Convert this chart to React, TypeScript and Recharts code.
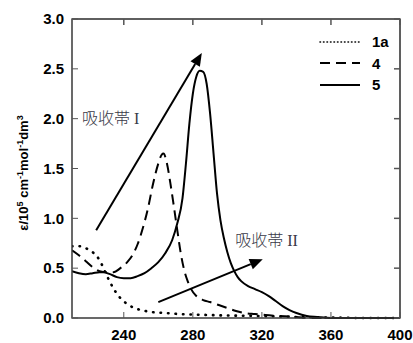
import React from 'react';
import { LineChart, Line, XAxis, YAxis, ReferenceLine, ReferenceDot, ReferenceArea } from 'recharts';

// wavelength (nm) / epsilon (10^5) pairs
const nm1a = [210, 214, 218, 222, 226, 229, 232, 235, 238, 242, 246, 250, 256, 264, 272, 280, 300, 320, 340, 360, 380, 400];
const eps1a = [0.72, 0.72, 0.7, 0.66, 0.58, 0.47, 0.36, 0.27, 0.2, 0.14, 0.1, 0.08, 0.06, 0.05, 0.04, 0.035, 0.025, 0.02, 0.01, 0.005, 0, 0];

const nm4 = [210, 214, 218, 222, 226, 230, 234, 238, 242, 245, 248, 251, 254, 257, 260, 262, 263, 265, 267, 269, 271, 273, 275, 277, 279, 282, 286, 290, 295, 300, 305, 310, 316, 322, 330, 340, 350, 400];
const eps4 = [0.68, 0.63, 0.57, 0.51, 0.47, 0.46, 0.46, 0.5, 0.56, 0.63, 0.74, 0.9, 1.1, 1.35, 1.55, 1.64, 1.65, 1.55, 1.35, 1.12, 0.88, 0.65, 0.48, 0.37, 0.29, 0.22, 0.18, 0.16, 0.13, 0.1, 0.07, 0.05, 0.04, 0.03, 0.02, 0.01, 0, 0];

const nm5 = [210, 214, 218, 222, 226, 228, 232, 236, 240, 244, 248, 252, 256, 260, 264, 268, 271, 274, 276, 278, 280, 282, 284, 286, 288, 290, 292, 294, 296, 298, 300, 302, 304, 306, 308, 312, 316, 320, 324, 328, 332, 336, 340, 346, 352, 360, 380, 400];
const eps5 = [0.47, 0.45, 0.44, 0.45, 0.46, 0.46, 0.44, 0.41, 0.4, 0.4, 0.42, 0.45, 0.5, 0.56, 0.65, 0.78, 0.95, 1.2, 1.55, 1.95, 2.25, 2.42, 2.48, 2.47, 2.35, 2.05, 1.65, 1.25, 0.98, 0.8, 0.66, 0.55, 0.47, 0.41, 0.37, 0.32, 0.29, 0.26, 0.22, 0.17, 0.12, 0.08, 0.05, 0.02, 0.01, 0, 0, 0];

const xTicks = [240, 280, 320, 360, 400];
const yTicks = [0, 0.5, 1, 1.5, 2, 2.5, 3];

const series = [
  { name: '1a', nm: nm1a, eps: eps1a, dash: '0.5 7', width: 2.6 },
  { name: '4', nm: nm4, eps: eps4, dash: '10 6', width: 2 },
  { name: '5', nm: nm5, eps: eps5, dash: undefined, width: 2 },
];

// absorption band arrows: [x1, y1, x2, y2]
const arrows = [
  [224, 0.88, 285.2, 2.66],
  [260, 0.16, 320.5, 0.59],
];
const bandLabels = [
  { x: 215.8, y: 2.0, text: '吸收帯 I' },
  { x: 304.5, y: 0.78, text: '吸收帯 II' },
];

const font = '"Liberation Sans", Arial, sans-serif';
const frame = '#555';

const ArrowShape = (props: any) => {
  const { x1, y1, x2, y2 } = props;
  const a = Math.atan2(y2 - y1, x2 - x1);
  const len = 13;
  const half = 5.5;
  const bx = x2 - len * Math.cos(a);
  const by = y2 - len * Math.sin(a);
  const px = -Math.sin(a) * half;
  const py = Math.cos(a) * half;
  return (
    <g>
      <line x1={x1} y1={y1} x2={bx} y2={by} stroke="#000" strokeWidth={2} />
      <polygon points={`${x2},${y2} ${bx + px},${by + py} ${bx - px},${by - py}`} fill="#000" />
    </g>
  );
};

// full frame edge plus inward tick, drawn from the reference line's own coordinates
const TopEdge = (p: any) => {
  const top = Math.min(p.y1, p.y2);
  return <line x1={p.x1} x2={p.x1} y1={top} y2={top + 6} stroke={frame} strokeWidth={1.5} />;
};
const RightEdge = (p: any) => {
  const right = Math.max(p.x1, p.x2);
  return <line x1={right - 6} x2={right} y1={p.y1} y2={p.y1} stroke={frame} strokeWidth={1.5} />;
};
const FrameLine = (p: any) => (
  <line x1={p.x1} y1={p.y1} x2={p.x2} y2={p.y2} stroke={frame} strokeWidth={1.5} />
);

const LegendBox = () => (
  <div style={{ position: 'absolute', top: 31, left: 318, fontFamily: font, fontWeight: 'bold', fontSize: 15 }}>
    {series.map((s) => (
      <div key={s.name} style={{ display: 'flex', alignItems: 'center', height: 21.5 }}>
        <svg width={44} height={8}>
          <line x1={2} y1={4} x2={42} y2={4} stroke="#000" strokeWidth={s.name === '1a' ? 1.6 : 2}
            strokeDasharray={s.name === '1a' ? '0.5 3' : s.dash} strokeLinecap={s.name === '1a' ? 'round' : 'butt'} />
        </svg>
        <span style={{ marginLeft: 10 }}>{s.name}</span>
      </div>
    ))}
  </div>
);

const YLabel = () => (
  <text x={0} y={0} transform="translate(28,173) rotate(-90)" textAnchor="middle" fontFamily={font}
    fontWeight="bold" fontSize={13} fill="#000">
    <tspan>ε/10</tspan>
    <tspan fontSize={9} dy={-5}>5</tspan>
    <tspan dy={5}> cm</tspan>
    <tspan fontSize={9} dy={-5}>-1</tspan>
    <tspan dy={5}>mol</tspan>
    <tspan fontSize={9} dy={-5}>-1</tspan>
    <tspan dy={5}>dm</tspan>
    <tspan fontSize={9} dy={-5}>3</tspan>
  </text>
);

export default function App() {
  return (
    <div style={{ position: 'relative', width: 413, height: 343, background: '#fff' }}>
      <style>{'body{margin:0}'}</style>
      <LineChart width={413} height={343} margin={{ top: 19, right: 13, bottom: 0, left: 0 }}>
        <XAxis xAxisId="b" type="number" dataKey="x" domain={[210, 400]} ticks={xTicks} allowDataOverflow
          height={25} tickSize={-6} tickMargin={17} stroke={frame}
          tick={{ fill: '#000', fontFamily: font, fontWeight: 'bold', fontSize: 15 }} />
        <YAxis yAxisId="l" type="number" domain={[0, 3]} ticks={yTicks} width={72} tickSize={-6} tickMargin={14}
          stroke={frame} tickFormatter={(v: number) => v.toFixed(1)}
          tick={{ fill: '#000', fontFamily: font, fontWeight: 'bold', fontSize: 15 }}
          label={{ content: YLabel }} />
        {series.map((s) => (
          <Line key={s.name} xAxisId="b" yAxisId="l" name={s.name} type="monotone"
            data={s.nm.map((x, i) => ({ x, y: s.eps[i] }))} dataKey="y" stroke="#000"
            strokeWidth={s.width} strokeDasharray={s.dash} strokeLinecap={s.name === '1a' ? 'round' : 'butt'}
            dot={false} activeDot={false} isAnimationActive={false} />
        ))}
        {/* plot frame: top and right edges */}
        <ReferenceArea xAxisId="b" yAxisId="l" x1={210} x2={400} y1={0} y2={3} fill="none"
          stroke={frame} strokeWidth={1.5} ifOverflow="visible" />
        <ReferenceLine xAxisId="b" yAxisId="l" y={3} ifOverflow="visible" shape={FrameLine} />
        <ReferenceLine xAxisId="b" yAxisId="l" x={400} ifOverflow="visible" shape={FrameLine} />
        {xTicks.map((t) => (
          <ReferenceLine key={'tx' + t} xAxisId="b" yAxisId="l" x={t} ifOverflow="visible" shape={TopEdge} />
        ))}
        {yTicks.map((t) => (
          <ReferenceLine key={'ry' + t} xAxisId="b" yAxisId="l" y={t} ifOverflow="visible" shape={RightEdge} />
        ))}
        {arrows.map((a, i) => (
          <ReferenceLine key={i} xAxisId="b" yAxisId="l"
            segment={[{ x: a[0], y: a[1] }, { x: a[2], y: a[3] }]} shape={ArrowShape} />
        ))}
        {bandLabels.map((b) => (
          <ReferenceDot key={b.text} xAxisId="b" yAxisId="l" x={b.x} y={b.y}
            shape={(p: any) => (
              <text x={p.cx} y={p.cy} dy="0.35em" fontFamily='"Liberation Serif", "Noto Sans CJK JP", serif'
                fontWeight={300} fontSize={16} fill="#3a3a48">{b.text}</text>
            )} />
        ))}
      </LineChart>
      <LegendBox />
    </div>
  );
}
